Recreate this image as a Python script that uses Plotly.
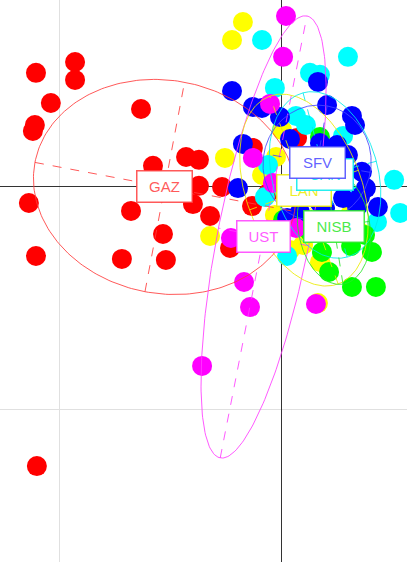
import numpy as np
import plotly.graph_objects as go

# ---- group colours --------------------------------------------------------
classes = ["GAZ", "LAN", "CAN", "NISB", "SFV", "UST"]
colors = {
    "GAZ": "#FF0000",
    "LAN": "#FFFF00",
    "CAN": "#00FFFF",
    "NISB": "#00FF00",
    "SFV": "#0000FF",
    "UST": "#FF00FF",
}
soft = {
    "GAZ": "rgba(255,60,60,0.85)",
    "LAN": "rgba(235,235,0,0.85)",
    "CAN": "rgba(0,235,235,0.85)",
    "NISB": "rgba(40,230,40,0.85)",
    "SFV": "rgba(70,70,255,0.85)",
    "UST": "rgba(255,60,255,0.85)",
}

# ---- factorial scores (axis 1, axis 2) per group ---------------------------
gaz_x = [-1.108, -0.932, -0.932, -1.041, -1.113, -1.122, -0.635, -0.581, -0.432,
         -0.374, -0.374, -1.140, -0.680, -0.401, -0.324, -0.536, -1.108, -0.721,
         -0.523, -1.104, -0.270, -0.131, -0.135, -0.063, 0.068, -0.234]
gaz_y = [0.514, 0.563, 0.482, 0.378, 0.279, 0.252, 0.351, 0.095, 0.135,
         0.122, 0.005, -0.072, -0.108, -0.077, -0.131, -0.212, -0.311, -0.324,
         -0.329, -1.257, 0.000, 0.176, -0.086, -0.027, 0.221, -0.275]

lan_x = [-0.176, -0.225, -0.257, -0.324, 0.000, -0.027, 0.005, -0.032, 0.117,
         0.095, 0.351, 0.171, 0.162, 0.306, 0.036, -0.090]
lan_y = [0.743, 0.662, 0.131, -0.221, 0.257, 0.135, -0.005, -0.126, -0.171,
         -0.261, -0.203, -0.338, -0.523, -0.126, -0.284, 0.054]

can_x = [-0.090, 0.297, 0.126, 0.171, -0.032, 0.063, 0.108, 0.275, 0.505,
         0.532, 0.428, -0.063, 0.023, 0.216, 0.351, -0.077]
can_y = [0.662, 0.586, 0.514, 0.505, 0.446, 0.320, 0.279, 0.230, 0.032,
         -0.117, -0.158, 0.099, -0.311, 0.032, -0.036, -0.045]

nisb_x = [0.180, 0.311, 0.405, 0.212, 0.315, 0.423, 0.171, 0.005, 0.284,
          0.126, 0.374]
nisb_y = [-0.293, -0.266, -0.293, -0.383, -0.450, -0.450, 0.225, -0.149, -0.185,
          -0.203, -0.216]

sfv_x = [-0.225, 0.162, 0.203, 0.315, 0.329, -0.131, -0.090, -0.009, -0.176,
         0.036, 0.171, 0.248, 0.297, 0.360, 0.378, -0.198, 0.432, 0.275,
         0.338, 0.194, 0.023, 0.351, 0.171, 0.081, 0.230, 0.126]
sfv_y = [0.432, 0.473, 0.369, 0.320, 0.279, 0.360, 0.356, 0.315, 0.194,
         0.216, 0.198, 0.189, 0.144, 0.068, -0.005, -0.005, -0.090, -0.050,
         -0.090, -0.095, -0.140, -0.045, -0.072, -0.113, 0.032, -0.036]

ust_x = [0.018, 0.005, -0.054, -0.131, -0.041, -0.230, -0.171, -0.144, -0.360,
         0.153, 0.063]
ust_y = [0.770, 0.586, 0.374, 0.131, 0.018, -0.230, -0.428, -0.541, -0.806,
         -0.527, -0.185]

scores = {
    "GAZ": (gaz_x, gaz_y),
    "LAN": (lan_x, lan_y),
    "CAN": (can_x, can_y),
    "NISB": (nisb_x, nisb_y),
    "SFV": (sfv_x, sfv_y),
    "UST": (ust_x, ust_y),
}

# ---- group inertia ellipses: centre, semi-axes, orientation (degrees) ------
ell_class = ["GAZ", "UST", "LAN", "CAN", "SFV", "NISB"]
ell_cx = [-0.528, -0.083, 0.099, 0.194, 0.158, 0.234]
ell_cy = [0.000, -0.225, -0.014, 0.054, 0.108, -0.180]
ell_a = [0.595, 1.014, 0.450, 0.383, 0.261, 0.261]
ell_b = [0.480, 0.207, 0.261, 0.239, 0.243, 0.162]
ell_angle = [-10.7, 78.9, 110.0, 105.0, 80.0, 99.0]

fig = go.Figure()

# points
for cl in classes:
    xs, ys = scores[cl]
    fig.add_trace(go.Scatter(
        x=xs, y=ys, mode="markers",
        marker=dict(size=20, color=colors[cl], line=dict(width=0)),
        hoverinfo="skip", showlegend=False,
    ))

# ellipses with their principal axes
t = np.linspace(0, 2 * np.pi, 241)
for cl, cx, cy, a, b, ang in zip(ell_class, ell_cx, ell_cy, ell_a, ell_b, ell_angle):
    th = np.deg2rad(ang)
    ux, uy = np.cos(th), np.sin(th)
    vx, vy = -np.sin(th), np.cos(th)
    ex = cx + a * np.cos(t) * ux + b * np.sin(t) * vx
    ey = cy + a * np.cos(t) * uy + b * np.sin(t) * vy
    fig.add_trace(go.Scatter(
        x=ex, y=ey, mode="lines",
        line=dict(color=soft[cl], width=1),
        hoverinfo="skip", showlegend=False,
    ))
    fig.add_trace(go.Scatter(
        x=[cx - a * ux, cx + a * ux, None, cx - b * vx, cx + b * vx],
        y=[cy - a * uy, cy + a * uy, None, cy - b * vy, cy + b * vy],
        mode="lines",
        line=dict(color=soft[cl], width=1, dash="dash"),
        hoverinfo="skip", showlegend=False,
    ))

# group labels at the centres
label_w = {"GAZ": 54, "UST": 52, "LAN": 53, "CAN": 55, "SFV": 54, "NISB": 59}
for cl, cx, cy in zip(ell_class, ell_cx, ell_cy):
    fig.add_annotation(
        x=cx, y=cy, text=cl, showarrow=False,
        font=dict(family="Liberation Sans, Arial, sans-serif", size=15, color=soft[cl]),
        bgcolor="white", bordercolor=soft[cl], borderwidth=1.5, borderpad=0,
        width=label_w[cl], height=30, align="center", valign="middle",
    )

fig.update_xaxes(
    range=[-1.270, 0.563], dtick=1, tick0=0,
    showgrid=True, gridcolor="#e0e0e0", gridwidth=1,
    zeroline=True, zerolinecolor="#333333", zerolinewidth=1,
    showticklabels=False, ticks="", showline=False,
)
fig.update_yaxes(
    range=[-1.689, 0.842], dtick=1, tick0=0,
    showgrid=True, gridcolor="#e0e0e0", gridwidth=1,
    zeroline=True, zerolinecolor="#333333", zerolinewidth=1,
    showticklabels=False, ticks="", showline=False,
)
fig.update_layout(
    width=407, height=562,
    margin=dict(l=0, r=0, t=0, b=0),
    plot_bgcolor="white", paper_bgcolor="white",
    showlegend=False,
)

fig.write_html("out.html")
